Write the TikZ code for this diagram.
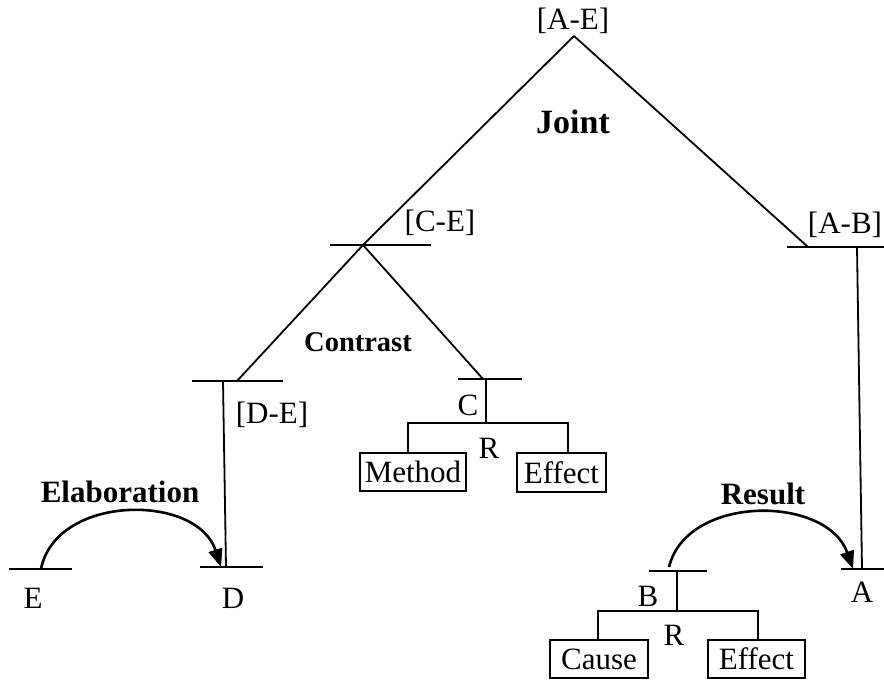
\documentclass[tikz,border=0pt]{standalone}
\usepackage{fontspec}
\setmainfont{Liberation Serif}
\usetikzlibrary{arrows.meta}
\begin{document}
\begin{tikzpicture}[x=1pt,y=-1pt,
  ln/.style={line width=1.8pt},
  arc/.style={line width=2.6pt,-{Triangle[length=18pt,width=14pt]}},
  lbl/.style={inner sep=0pt,font=\fontsize{31}{34}\selectfont},
  rel/.style={inner sep=0pt,font=\fontsize{31}{34}\selectfont\bfseries},
  box/.style={draw,line width=1.8pt,inner sep=0pt,font=\fontsize{31}{34}\selectfont}]
\useasboundingbox (0,0) rectangle (884,680);
% coordinates
\coordinate (apex) at (574,36);
\coordinate (ce) at (363,245);
\coordinate (ceL) at (330,245);
\coordinate (ceR) at (431,245);
\coordinate (abD) at (808,247);
\coordinate (abL) at (787,247);
\coordinate (abR) at (884,247);
\coordinate (abV) at (857,247);
\coordinate (aV) at (862,569);
\coordinate (aL) at (841,569);
\coordinate (aR) at (884,569);
\coordinate (de) at (237,381);
\coordinate (deL) at (192,381);
\coordinate (deR) at (283,381);
\coordinate (deV) at (223,381);
\coordinate (dV) at (226,567);
\coordinate (dL) at (200,567);
\coordinate (dR) at (263,567);
\coordinate (dT) at (221,567);
\coordinate (eL) at (9,569);
\coordinate (eR) at (72,569);
\coordinate (eS) at (41,569);
\coordinate (c) at (483,379);
\coordinate (cL) at (458,379);
\coordinate (cR) at (522,379);
\coordinate (cV) at (486,379);
\coordinate (cB) at (486,423);
\coordinate (r1L) at (408,423);
\coordinate (r1R) at (568,423);
\coordinate (bL) at (649,571);
\coordinate (bR) at (707,571);
\coordinate (bV) at (677,571);
\coordinate (bB) at (677,611);
\coordinate (r2L) at (598,611);
\coordinate (r2R) at (758,611);
\coordinate (bS) at (669,567);
\coordinate (aT) at (853,569);
% boxes
\node[box,minimum width=106pt,minimum height=38pt] (method) at (413,472) {Method};
\node[box,minimum width=89pt,minimum height=39pt] (effect1) at (561.5,472.5) {Effect};
\node[box,minimum width=98pt,minimum height=38pt] (cause) at (599,659) {Cause};
\node[box,minimum width=97pt,minimum height=38pt] (effect2) at (756.5,659) {Effect};
% labels
\node[lbl] (tAE) at (573,21) {[A-E]};
\node[lbl] (tCE) at (440,223) {[C-E]};
\node[lbl] (tAB) at (845,225) {[A-B]};
\node[lbl] (tDE) at (272,415) {[D-E]};
\node[lbl] (tC) at (468,405) {C};
\node[lbl] (tR1) at (489,448) {R};
\node[lbl] (tE) at (33,598) {E};
\node[lbl] (tD) at (233,598) {D};
\node[lbl] (tB) at (648,596) {B};
\node[lbl] (tR2) at (674,635) {R};
\node[lbl] (tA) at (862,592) {A};
\node[rel,font=\fontsize{34}{36}\selectfont\bfseries] (joint) at (573,122) {Joint};
\node[rel,font=\fontsize{28.5}{32}\selectfont\bfseries] (contrast) at (358,342) {Contrast};
\node[rel] (elab) at (120,492) {Elaboration};
\node[rel] (result) at (763,494) {Result};
% tree lines
\draw[ln] (apex) -- (ce);
\draw[ln] (apex) -- (abD);
\draw[ln] (ceL) -- (ceR);
\draw[ln] (abL) -- (abR);
\draw[ln] (abV) -- (aV);
\draw[ln] (aL) -- (aR);
\draw[ln] (ce) -- (de);
\draw[ln] (ce) -- (c);
\draw[ln] (deL) -- (deR);
\draw[ln] (deV) -- (dV);
\draw[ln] (dL) -- (dR);
\draw[ln] (eL) -- (eR);
\draw[ln] (cL) -- (cR);
\draw[ln] (cV) -- (cB);
\draw[ln] (method.north -| r1L) |- (r1R) -- (effect1.north -| r1R);
\draw[ln] (bL) -- (bR);
\draw[ln] (bV) -- (bB);
\draw[ln] (cause.north -| r2L) |- (r2R) -- (effect2.north -| r2R);
% relation arcs
\draw[arc] (eS) .. controls +(15,-75) and +(-24,-74) .. (dT);
\draw[arc] (bS) .. controls +(18,-73) and +(-26,-74) .. (aT);
\end{tikzpicture}
\end{document}
